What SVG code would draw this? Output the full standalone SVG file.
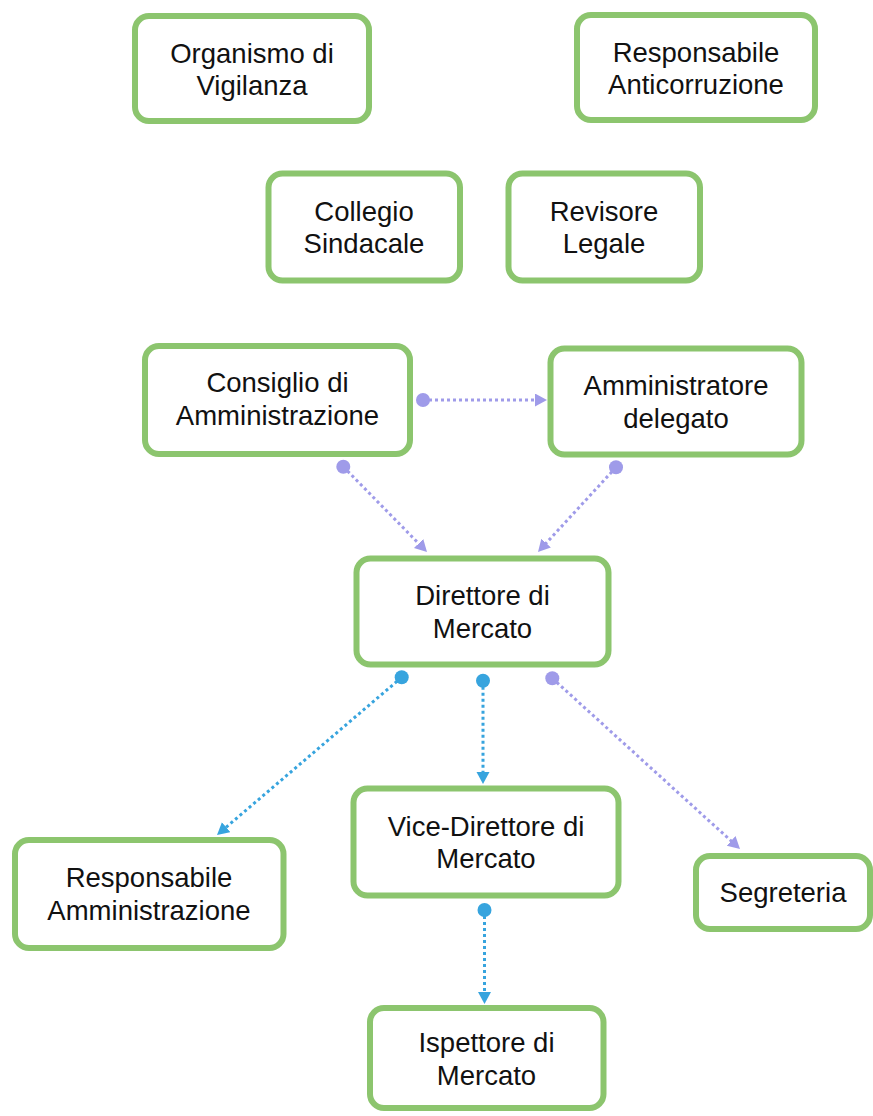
<svg xmlns="http://www.w3.org/2000/svg" width="873" height="1116" viewBox="0 0 873 1116">
<style>
.box{fill:#fff;stroke:#8cc56e;stroke-width:6}
.lbl{font-family:"Liberation Sans",Arial,sans-serif;font-size:27.5px;fill:#111;text-anchor:middle}
.lav{stroke:#9f9be9;stroke-width:3;stroke-dasharray:3 3;fill:none}
.blu{stroke:#37a4de;stroke-width:3;stroke-dasharray:3 3;fill:none}
.dlav{fill:#9f9be9}
.dblu{fill:#37a4de}
</style>
<defs>
<marker id="aLav" markerUnits="userSpaceOnUse" markerWidth="13" markerHeight="14" refX="4" refY="6.5" orient="auto"><path d="M0,0 L12,6.5 L0,13 z" fill="#9f9be9"/></marker>
<marker id="aBlu" markerUnits="userSpaceOnUse" markerWidth="13" markerHeight="14" refX="4" refY="6.5" orient="auto"><path d="M0,0 L12,6.5 L0,13 z" fill="#37a4de"/></marker>
</defs>
<rect width="873" height="1116" fill="#fff"/>
<g id="connectors">
<line class="lav" x1="423" y1="400" x2="539" y2="400" marker-end="url(#aLav)"/>
<circle class="dlav" cx="423" cy="400" r="7"/>
<line class="lav" x1="343.3" y1="466.7" x2="421.4" y2="546.3" marker-end="url(#aLav)"/>
<circle class="dlav" cx="343.3" cy="466.7" r="7"/>
<line class="lav" x1="616" y1="467.3" x2="543.4" y2="546.1" marker-end="url(#aLav)"/>
<circle class="dlav" cx="616" cy="467.3" r="7"/>
<line class="blu" x1="401.7" y1="677.3" x2="223.1" y2="829.8" marker-end="url(#aBlu)"/>
<circle class="dblu" cx="401.7" cy="677.3" r="7"/>
<line class="blu" x1="483" y1="680.7" x2="483" y2="776" marker-end="url(#aBlu)"/>
<circle class="dblu" cx="483" cy="680.7" r="7"/>
<line class="lav" x1="552.3" y1="678.3" x2="734.1" y2="843.6" marker-end="url(#aLav)"/>
<circle class="dlav" cx="552.3" cy="678.3" r="7"/>
<line class="blu" x1="484.5" y1="910" x2="484.5" y2="996" marker-end="url(#aBlu)"/>
<circle class="dblu" cx="484.5" cy="910" r="7"/>
</g>
<g id="organismo">
<rect class="box" x="135" y="16" width="234" height="105" rx="14"/>
<text class="lbl" x="252" y="63">Organismo di</text>
<text class="lbl" x="252" y="95">Vigilanza</text>
</g>
<g id="anticorruzione">
<rect class="box" x="577" y="15" width="238" height="105" rx="14"/>
<text class="lbl" x="696" y="61.5">Responsabile</text>
<text class="lbl" x="696" y="93.5">Anticorruzione</text>
</g>
<g id="collegio">
<rect class="box" x="268.5" y="173.5" width="191.5" height="107" rx="14"/>
<text class="lbl" x="364" y="221">Collegio</text>
<text class="lbl" x="364" y="253">Sindacale</text>
</g>
<g id="revisore">
<rect class="box" x="508.5" y="173.5" width="191.5" height="107" rx="14"/>
<text class="lbl" x="604" y="221">Revisore</text>
<text class="lbl" x="604" y="253">Legale</text>
</g>
<g id="cda">
<rect class="box" x="145" y="346" width="265" height="108" rx="14"/>
<text class="lbl" x="277.5" y="392">Consiglio di</text>
<text class="lbl" x="277.5" y="425">Amministrazione</text>
</g>
<g id="ad">
<rect class="box" x="550.5" y="348.5" width="251" height="106" rx="14"/>
<text class="lbl" x="676" y="395">Amministratore</text>
<text class="lbl" x="676" y="427.5">delegato</text>
</g>
<g id="direttore">
<rect class="box" x="356.5" y="558.5" width="252" height="106" rx="14"/>
<text class="lbl" x="482.5" y="605">Direttore di</text>
<text class="lbl" x="482.5" y="637.5">Mercato</text>
</g>
<g id="vice">
<rect class="box" x="353.5" y="788.5" width="265" height="107" rx="14"/>
<text class="lbl" x="486" y="836">Vice-Direttore di</text>
<text class="lbl" x="486" y="868">Mercato</text>
</g>
<g id="respamm">
<rect class="box" x="15" y="840" width="268.5" height="108" rx="14"/>
<text class="lbl" x="149" y="887">Responsabile</text>
<text class="lbl" x="149" y="919.5">Amministrazione</text>
</g>
<g id="segreteria">
<rect class="box" x="696" y="856" width="174" height="73" rx="14"/>
<text class="lbl" x="783" y="902">Segreteria</text>
</g>
<g id="ispettore">
<rect class="box" x="370" y="1008" width="233.5" height="100" rx="14"/>
<text class="lbl" x="486.5" y="1052">Ispettore di</text>
<text class="lbl" x="486.5" y="1084.5">Mercato</text>
</g>
</svg>
